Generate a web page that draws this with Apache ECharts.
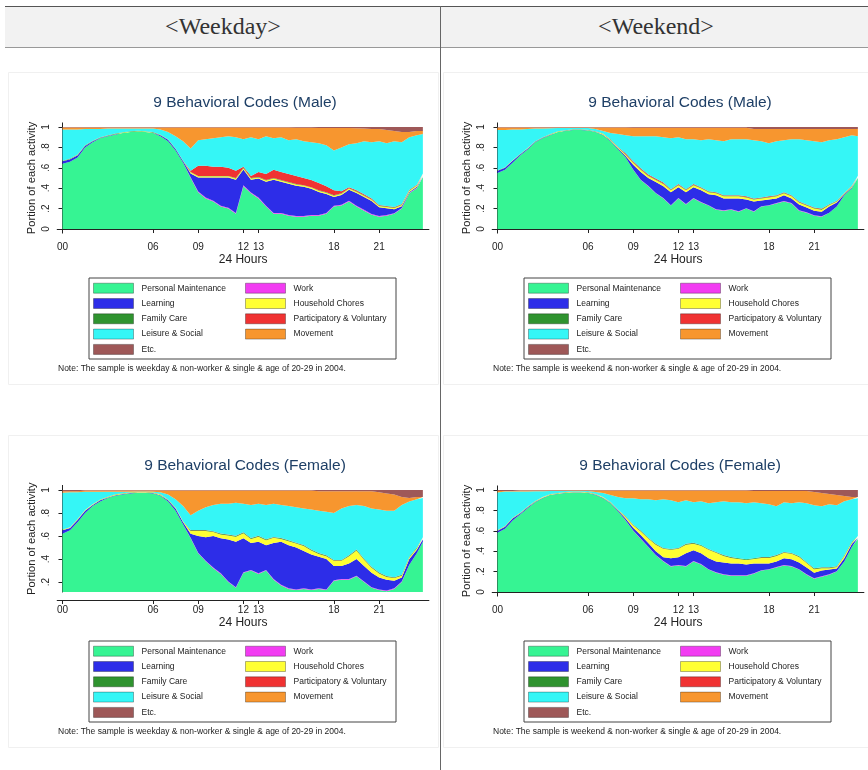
<!DOCTYPE html>
<html>
<head>
<meta charset="utf-8">
<script src="https://cdn.jsdelivr.net/npm/echarts@6/dist/echarts.min.js"></script>
<style>
  body { margin: 0; background: #fff; }
  #wrap { position: relative; width: 868px; height: 770px; overflow: hidden; }
  .head { position: absolute; left: 5px; top: 6px; width: 863px; height: 40px; background: #f2f2f2; border-top: 1px solid #555; border-bottom: 1px solid #999; }
  .vline { position: absolute; left: 440px; top: 6px; width: 1px; height: 764px; background: #666; }
  .htext { position: absolute; top: 13px; width: 300px; text-align: center; font-family: 'Liberation Serif', 'DejaVu Serif', serif; font-size: 24px; color: #333; }
  #chart { position: absolute; left: 0; top: 0; width: 868px; height: 770px; }
</style>
</head>
<body>
<div id="wrap">
  <div class="head"></div>
  <div class="vline"></div>
  <div class="htext" style="left:73px">&lt;Weekday&gt;</div>
  <div class="htext" style="left:506px">&lt;Weekend&gt;</div>
  <div id="chart"></div>
</div>
<script>
// time of day (hours), half-hour steps
const hours = [0,0.5,1,1.5,2,2.5,3,3.5,4,4.5,5,5.5,6,6.5,7,7.5,8,8.5,9,9.5,10,10.5,11,11.5,12,12.5,13,13.5,14,14.5,15,15.5,16,16.5,17,17.5,18,18.5,19,19.5,20,20.5,21,21.5,22,22.5,23,23.5,23.9]
const xTicks = [0, 6, 9, 12, 13, 18, 21]
const yTicks = [0, 0.2, 0.4, 0.6, 0.8, 1]

const codes = ['Personal Maintenance', 'Work', 'Learning', 'Household Chores', 'Family Care',
  'Participatory & Voluntary', 'Leisure & Social', 'Movement', 'Etc.']
const colors = ['#36f493', '#f23cf2', '#2d2de8', '#ffff33', '#2f932f', '#f03232', '#35f6f6', '#f7962f', '#9e5858']

// weekday, male
const mwPM = [.64,.66,.70,.80,.85,.89,.91,.925,.94,.95,.955,.95,.94,.91,.86,.77,.65,
  .50,.36,.30,.27,.22,.20,.15,.42,.35,.30,.22,.15,.15,.13,.12,.12,
  .13,.13,.15,.22,.23,.27,.22,.18,.14,.12,.13,.15,.20,.35,.40,.51]
const mwWork = [0,0,0,0,0,0,0,0,0,0,0,0,0,0,0,0,0,
  .008,.008,.008,.008,.008,.008,.008,.008,.008,.008,.008,.008,.008,.008,.008,.008,
  .008,.008,.008,.008,.008,.008,.008,.008,.008,.008,.008,.005,.005,.005,.005,.005]
const mwLearn = [.024,.024,.024,.014,.009,.004,.004,.004,.002,.001,.001,.002,.004,.009,.014,.014,.014,
  .036,.136,.196,.226,.276,.296,.326,.156,.126,.186,.236,.326,.306,.306,.296,.286,
  .256,.226,.186,.086,.096,.106,.126,.126,.126,.086,.066,.039,.019,.009,.009,.009]
const mwHouse = [.003,.003,.003,.003,.003,.003,.003,.003,.003,.003,.003,.003,.003,.003,.003,.003,.003,
  .012,.012,.012,.012,.012,.012,.012,.012,.012,.012,.012,.012,.012,.012,.012,.012,
  .012,.012,.012,.012,.012,.012,.012,.012,.012,.012,.012,.012,.012,.012,.012,.012]
const mwFamily = [.003,.003,.003,.003,.003,.003,.003,.003,.003,.003,.003,.003,.003,.003,.003,.003,.003,
  .004,.004,.004,.004,.004,.004,.004,.004,.004,.004,.004,.004,.004,.004,.004,.004,
  .004,.004,.004,.004,.004,.004,.004,.004,.004,.004,.004,.004,.004,.004,.004,.004]
const mwPart = [0,0,0,0,0,0,0,0,0,0,0,0,0,0,0,0,0,
  .01,.10,.10,.09,.09,.08,.07,.01,.02,.05,.06,.08,.08,.08,.08,.07,
  .07,.07,.06,.05,.02,.01,.01,.01,.01,.005,.005,.005,.005,.005,.005,.005]
const mwLeisure = [.305,.285,.245,.16,.115,.08,.065,.05,.037,.028,.023,.027,.035,.05,.07,.12,.19,
  .22,.25,.26,.28,.29,.31,.33,.27,.38,.32,.37,.31,.34,.33,.36,.36,
  .37,.39,.40,.39,.43,.42,.46,.52,.55,.625,.615,.645,.605,.515,.485,.385]
const mwMove = [.02,.02,.02,.015,.015,.015,.01,.01,.01,.01,.01,.01,.01,.02,.045,.085,.135,
  .205,.125,.115,.105,.095,.085,.095,.115,.095,.115,.085,.105,.095,.125,.112,.132,
  .142,.15,.17,.22,.19,.16,.148,.125,.13,.12,.13,.10,.10,.05,.04,.03]
const mwEtc = [.005,.005,.005,.005,.005,.005,.005,.005,.005,.005,.005,.005,.005,.005,.005,.005,.005,
  .005,.005,.005,.005,.005,.005,.005,.005,.005,.005,.005,.005,.005,.005,.008,.008,
  .008,.01,.01,.01,.01,.01,.012,.015,.02,.02,.03,.04,.05,.05,.04,.04]

// weekend, male
const mePM = [.55,.58,.65,.72,.78,.85,.89,.92,.95,.96,.97,.97,.965,.95,.92,.86,.78,
  .70,.58,.48,.42,.35,.30,.23,.30,.24,.30,.26,.23,.19,.18,.19,.17,
  .20,.17,.22,.23,.25,.27,.25,.18,.16,.13,.12,.16,.22,.33,.40,.50]
const meWork = [0,0,0,0,0,0,0,0,0,0,0,0,0,0,0,0,0,
  0,.004,.004,.004,.004,.004,.004,.004,.004,.004,.004,.004,.004,.004,.004,.004,
  .004,.004,.004,.004,.004,.004,.004,.004,.004,.004,.004,0,0,0,0,0]
const meLearn = [.02,.02,.02,.01,.01,.005,.005,.005,.002,.003,.002,.002,.002,.003,.005,.008,.01,
  .015,.046,.076,.076,.106,.116,.126,.106,.116,.106,.116,.106,.136,.116,.106,.126,
  .086,.096,.056,.056,.046,.056,.046,.056,.046,.046,.046,.06,.04,.01,.01,.01]
const meHouse = [.003,.003,.003,.003,.003,.003,.003,.003,.003,.003,.003,.003,.003,.003,.008,.008,.008,
  .012,.02,.02,.02,.02,.02,.02,.02,.02,.02,.02,.02,.02,.02,.02,.02,
  .02,.02,.02,.02,.02,.02,.02,.02,.02,.02,.02,.015,.01,.008,.008,.008]
const meFamily = [.002,.002,.002,.002,.002,.002,.002,.002,.002,.002,.002,.002,.002,.002,.003,.003,.004,
  .005,.005,.005,.005,.005,.005,.005,.005,.005,.005,.005,.005,.005,.005,.005,.005,
  .005,.005,.005,.005,.005,.005,.005,.005,.005,.005,.005,.005,.004,.003,.003,.003]
const mePart = [0,0,0,0,0,0,0,0,0,0,0,0,0,0,0,0,.003,
  .01,.01,.01,.01,.01,.01,.005,.005,.005,.005,.005,.005,.005,.005,.005,.005,
  .005,.005,.005,.005,.005,.005,.005,.005,.005,.005,.005,.003,.002,.002,.002,.002]
const meLeisure = [.395,.365,.30,.24,.185,.125,.085,.058,.033,.022,.013,.013,.018,.022,.024,.061,.125,
  .178,.245,.315,.375,.415,.445,.50,.46,.49,.44,.46,.51,.51,.53,.55,.55,
  .56,.57,.55,.52,.53,.51,.55,.61,.63,.65,.65,.627,.604,.547,.497,.387]
const meMove = [.025,.025,.02,.02,.015,.01,.01,.007,.005,.005,.005,.005,.005,.015,.035,.055,.065,
  .075,.082,.082,.082,.082,.092,.102,.092,.112,.112,.122,.112,.122,.132,.112,.112,
  .112,.11,.12,.14,.12,.11,.10,.10,.11,.12,.13,.11,.10,.08,.06,.07]
const meEtc = [.005,.005,.005,.005,.005,.005,.005,.005,.005,.005,.005,.005,.005,.005,.005,.005,.005,
  .005,.008,.008,.008,.008,.008,.008,.008,.008,.008,.008,.008,.008,.008,.008,.008,
  .008,.02,.02,.02,.02,.02,.02,.02,.02,.02,.02,.02,.02,.02,.02,.02]

// weekday, female
const fwPM = [.62,.65,.72,.80,.86,.90,.93,.95,.96,.97,.975,.975,.97,.95,.90,.82,.70,
  .58,.45,.38,.32,.27,.20,.15,.28,.30,.27,.30,.22,.17,.14,.13,.14,
  .13,.14,.13,.21,.22,.22,.25,.20,.15,.13,.12,.14,.20,.35,.45,.55]
const fwWork = [0,0,0,0,0,0,0,0,0,0,0,0,0,0,0,0,0,
  .005,.005,.005,.005,.005,.005,.005,.005,.005,.005,.005,.005,.005,.005,.005,.005,
  .005,.005,.005,.005,.005,.005,.005,.005,.005,.005,.005,.005,.005,0,0,0]
const fwLearn = [.03,.02,.02,.02,.01,.01,.005,.005,.005,.003,.003,.003,.003,.005,.01,.02,.02,
  .035,.145,.205,.275,.305,.365,.395,.295,.235,.275,.215,.315,.375,.375,.365,.325,
  .305,.275,.265,.125,.115,.135,.145,.135,.125,.105,.095,.065,.035,.05,.03,.02]
const fwHouse = [.005,.005,.005,.005,.005,.005,.005,.005,.005,.005,.005,.005,.005,.005,.005,.005,.005,
  .024,.044,.054,.034,.034,.034,.044,.044,.034,.044,.044,.044,.024,.034,.034,.044,
  .034,.024,.024,.044,.044,.064,.074,.054,.044,.034,.024,.024,.014,.014,.014,.014]
const fwFamily = [.002,.002,.002,.002,.002,.002,.002,.002,.002,.002,.002,.002,.002,.002,.002,.002,.002,
  .006,.006,.006,.006,.006,.006,.006,.006,.006,.006,.006,.006,.006,.006,.006,.006,
  .006,.006,.006,.006,.006,.006,.006,.006,.006,.006,.006,.006,.006,.006,.006,.006]
const fwPart = [0,0,0,0,0,0,0,0,0,0,0,0,0,0,0,0,0,
  .002,.002,.002,.002,.002,.002,.002,.002,.002,.002,.002,.002,.002,.002,.002,.002,
  .002,.002,.002,.002,.002,.002,.002,.002,.002,.002,.002,.002,.002,0,0,0]
const fwLeisure = [.318,.303,.233,.158,.108,.068,.043,.023,.013,.005,.003,.003,.005,.018,.043,.073,.133,
  .128,.168,.198,.228,.258,.268,.288,.248,.288,.278,.298,.288,.288,.298,.308,.318,
  .348,.368,.378,.408,.448,.428,.388,.458,.508,.548,.568,.578,.608,.48,.42,.34]
const fwMove = [.015,.01,.01,.01,.01,.01,.01,.01,.01,.01,.007,.007,.01,.015,.035,.075,.135,
  .215,.175,.145,.125,.115,.115,.105,.115,.125,.115,.125,.115,.125,.135,.145,.155,
  .165,.17,.18,.19,.15,.13,.12,.13,.15,.15,.15,.14,.07,.03,.02,.01]
const fwEtc = [.01,.01,.01,.005,.005,.005,.005,.005,.005,.005,.005,.005,.005,.005,.005,.005,.005,
  .005,.005,.005,.005,.005,.005,.005,.005,.005,.005,.005,.005,.005,.005,.005,.005,
  .005,.01,.01,.01,.01,.01,.01,.01,.01,.02,.03,.04,.06,.07,.06,.06]

// weekend, female
const fePM = [.58,.62,.70,.76,.82,.88,.92,.95,.96,.97,.975,.975,.97,.95,.92,.87,.79,
  .70,.60,.52,.44,.36,.30,.25,.26,.25,.30,.27,.22,.19,.17,.16,.16,
  .16,.18,.21,.22,.24,.26,.25,.22,.17,.13,.15,.17,.20,.30,.44,.52]
const feWork = [0,0,0,0,0,0,0,0,0,0,0,0,0,0,0,0,0,
  .004,.004,.004,.004,.004,.004,.004,.004,.004,.004,.004,.004,.004,.004,.004,.004,
  .004,.004,.004,.004,.004,.004,.004,.004,.004,.004,.004,.004,.004,0,0,0]
const feLearn = [.02,.02,.02,.01,.01,.005,.005,.003,.003,.003,.003,.003,.003,.005,.005,.005,.01,
  .016,.026,.036,.036,.036,.036,.076,.076,.126,.106,.106,.106,.106,.116,.116,.116,
  .106,.096,.066,.056,.056,.066,.066,.066,.066,.056,.056,.046,.026,.03,.03,.01]
const feHouse = [.005,.005,.005,.005,.005,.005,.005,.005,.005,.005,.005,.005,.005,.005,.005,.005,.005,
  .014,.024,.034,.044,.064,.084,.084,.084,.084,.064,.074,.084,.084,.064,.054,.044,
  .044,.044,.054,.054,.054,.054,.054,.054,.044,.034,.024,.014,.014,.024,.014,.014]
const feFamily = [.002,.002,.002,.002,.002,.002,.002,.002,.002,.002,.002,.002,.002,.002,.002,.002,.002,
  .006,.006,.006,.006,.006,.006,.006,.006,.006,.006,.006,.006,.006,.006,.006,.006,
  .006,.006,.006,.006,.006,.006,.006,.006,.006,.006,.006,.006,.006,.006,.006,.006]
const fePart = [0,0,0,0,0,0,0,0,0,0,0,0,0,0,0,0,0,
  .002,.002,.002,.002,.002,.002,.002,.002,.002,.002,.002,.002,.002,.002,.002,.002,
  .002,.002,.002,.002,.002,.002,.002,.002,.002,.002,.002,.002,.002,0,0,0]
const feLeisure = [.368,.338,.258,.208,.148,.096,.056,.03,.02,.01,.005,.005,.01,.018,.038,.068,.123,
  .178,.258,.308,.378,.428,.478,.478,.448,.428,.398,.428,.448,.488,.528,.538,.548,
  .548,.548,.528,.518,.478,.488,.488,.528,.578,.618,.598,.618,.598,.53,.42,.37]
const feMove = [.015,.005,.005,.01,.01,.007,.007,.005,.005,.005,.005,.005,.005,.015,.025,.045,.065,
  .075,.075,.085,.085,.095,.085,.095,.115,.095,.115,.105,.125,.115,.105,.115,.115,
  .125,.11,.12,.13,.15,.11,.12,.11,.12,.13,.13,.10,.10,.05,.02,.01]
const feEtc = [.01,.01,.01,.005,.005,.005,.005,.005,.005,.005,.005,.005,.005,.005,.005,.005,.005,
  .005,.005,.005,.005,.005,.005,.005,.005,.005,.005,.005,.005,.005,.005,.005,.005,
  .005,.01,.01,.01,.01,.01,.01,.01,.01,.02,.03,.04,.05,.06,.07,.07]

const panels = [
  { title: '9 Behavioral Codes (Male)', day: 'weekday', dx: 0, dy: 0,
    ymin: -0.04, top: 122.9, height: 110.2, xoff: 4,
    series: [mwPM, mwWork, mwLearn, mwHouse, mwFamily, mwPart, mwLeisure, mwMove, mwEtc] },
  { title: '9 Behavioral Codes (Male)', day: 'weekend', dx: 435, dy: 0,
    ymin: -0.04, top: 122.9, height: 110.2, xoff: 4,
    series: [mePM, meWork, meLearn, meHouse, meFamily, mePart, meLeisure, meMove, meEtc] },
  { title: '9 Behavioral Codes (Female)', day: 'weekday', dx: 0, dy: 363,
    ymin: 0.113, top: 485.4, height: 106.6, xoff: 8,
    series: [fwPM, fwWork, fwLearn, fwHouse, fwFamily, fwPart, fwLeisure, fwMove, fwEtc] },
  { title: '9 Behavioral Codes (Female)', day: 'weekend', dx: 435, dy: 363,
    ymin: -0.04, top: 485.9, height: 110.2, xoff: 4,
    series: [fePM, feWork, feLearn, feHouse, feFamily, fePart, feLeisure, feMove, feEtc] }
]

const font = "'Liberation Sans', Arial, sans-serif"
const ink = '#222'
const leftCol = [codes[0], codes[2], codes[4], codes[6], codes[8]]
const rightCol = [codes[1], codes[3], codes[5], codes[7]]

const option = {
  animation: false,
  textStyle: { fontFamily: font },
  title: [], grid: [], xAxis: [], yAxis: [], legend: [], series: [], graphic: []
}

panels.forEach((p, i) => {
  // faint frame of each Stata graph
  option.graphic.push({
    type: 'rect', silent: true, z: -10,
    shape: { x: 8.5 + p.dx, y: 72.5 + p.dy, width: 430, height: 312 },
    style: { fill: '#fff', stroke: '#f0f0f0', lineWidth: 1 }
  })
  option.title.push({
    text: p.title, left: 240 + p.dx, top: 90 + p.dy, textAlign: 'center',
    textStyle: { fontFamily: font, fontSize: 15.5, fontWeight: 'normal', color: '#1e3f66' }
  })
  option.grid.push({ left: 57.2 + p.dx, top: p.top, width: 371.7, height: p.height })
  option.xAxis.push({
    type: 'value', gridIndex: i, min: -0.35, max: 24.3, offset: p.xoff,
    name: '24 Hours', nameLocation: 'middle', nameGap: 17,
    nameTextStyle: { fontSize: 12, color: ink, fontFamily: font },
    axisLine: { lineStyle: { color: ink } },
    axisTick: { length: 4, lineStyle: { color: ink }, customValues: xTicks },
    axisLabel: { fontSize: 10, color: ink, margin: 5, customValues: xTicks,
      formatter: v => String(v).padStart(2, '0') },
    splitLine: { show: false }
  })
  const yt = yTicks.filter(v => v >= p.ymin)
  option.yAxis.push({
    type: 'value', gridIndex: i, min: p.ymin, max: 1.04,
    name: 'Portion of each activity', nameLocation: 'middle', nameGap: 20,
    nameTextStyle: { fontSize: 11.2, color: ink, fontFamily: font },
    axisLine: { show: true, lineStyle: { color: ink } },
    axisTick: { show: true, length: 4, lineStyle: { color: ink }, customValues: yt },
    axisLabel: { fontSize: 10, color: ink, margin: 6, rotate: 90, customValues: yt,
      formatter: v => v === 0 ? '0' : v === 1 ? '1' : String(+v.toFixed(1)).replace('0.', '.') },
    splitLine: { show: false }
  })
  p.series.forEach((vals, k) => {
    // value first so the stack runs on the y dimension
    option.series.push({
      name: codes[k], type: 'line', xAxisIndex: i, yAxisIndex: i, stack: 'p' + i,
      symbol: 'none', silent: true, lineStyle: { width: 0 },
      itemStyle: { color: colors[k] },
      areaStyle: { color: colors[k], opacity: 1 },
      emphasis: { disabled: true },
      encode: { x: 1, y: 0 },
      data: hours.map((h, j) => [vals[j], h])
    })
  })
  const legendBase = {
    orient: 'vertical', padding: 0, itemWidth: 40, itemHeight: 10, itemGap: 4.3,
    icon: 'rect', selectedMode: false,
    itemStyle: { borderColor: 'rgba(0,0,0,0.3)', borderWidth: 1 },
    textStyle: { fontSize: 8.5, color: ink, fontFamily: font, lineHeight: 10, padding: [0, 0, 0, 3] }
  }
  option.legend.push(Object.assign({}, legendBase, { data: leftCol, left: 93 + p.dx, top: 282.7 + p.dy }))
  option.legend.push(Object.assign({}, legendBase, { data: rightCol, left: 245 + p.dx, top: 282.7 + p.dy }))
  option.graphic.push({
    type: 'rect', silent: true,
    shape: { x: 89 + p.dx, y: 278 + p.dy, width: 307, height: 81 },
    style: { fill: 'none', stroke: '#444', lineWidth: 1 }
  })
  option.graphic.push({
    type: 'text', silent: true, x: 58 + p.dx, y: 369 + p.dy,
    style: {
      text: 'Note: The sample is ' + p.day + ' & non-worker & single & age of 20-29 in 2004.',
      fill: ink, fontSize: 8.5, fontFamily: font, verticalAlign: 'middle'
    }
  })
})

const chart = echarts.init(document.getElementById('chart'))
chart.setOption(option)
</script>
</body>
</html>
